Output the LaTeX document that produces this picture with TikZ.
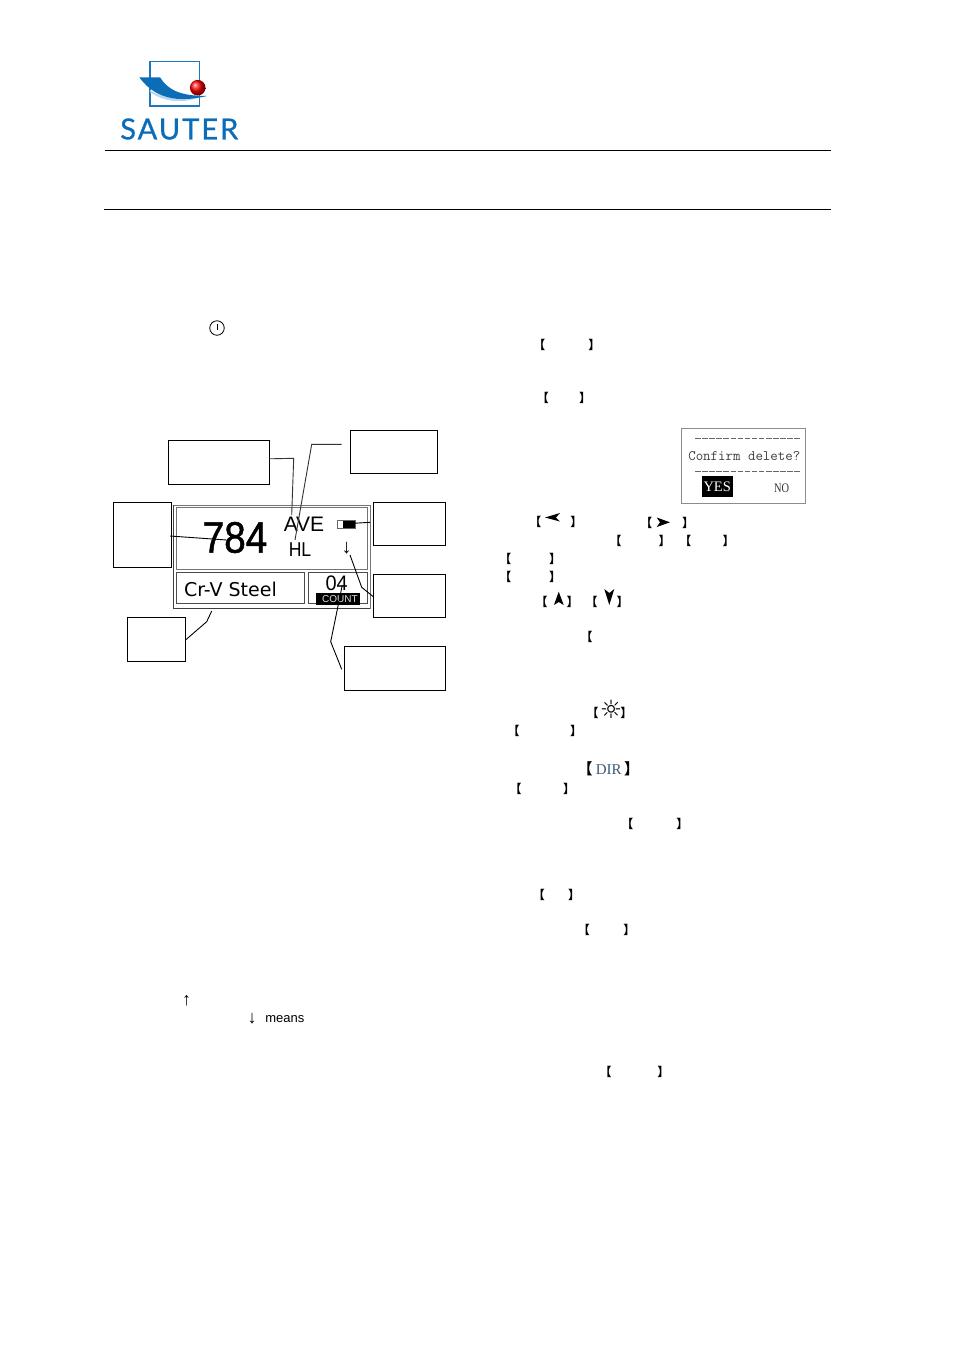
\documentclass[tikz,border=0pt]{standalone}
\usepackage{fontspec}
\usepackage{graphicx}
\setmainfont{Liberation Sans}
\newfontfamily\cjk{Noto Sans CJK SC}
\newfontfamily\dvs{DejaVu Sans}
\newfontfamily\lser{Liberation Serif}
\newfontfamily\lato[LetterSpace=7]{Lato}
\newfontfamily\heavy[FakeBold=1.2]{Liberation Sans}
\definecolor{logoblue}{HTML}{1B78BE}
\definecolor{logodark}{HTML}{0B6DB7}
\definecolor{logolight}{HTML}{BBD6EC}
\definecolor{dirblue}{HTML}{3A5A7A}
\tikzset{
  every node/.style={inner sep=0pt,outer sep=0pt},
  callout/.style={draw=black,line width=0.8pt,fill=white,anchor=north west},
  lead/.style={draw=black,line width=0.9pt},
  lcdframe/.style={draw=black!55,line width=0.8pt},
  lb/.style={font=\cjk\bfseries\fontsize{12}{12}\selectfont,xshift=-3.4pt,yshift=-0.7pt},
  rb/.style={font=\cjk\bfseries\fontsize{12}{12}\selectfont,xshift=3.4pt,yshift=-0.7pt},
}
\begin{document}
\begin{tikzpicture}[x=1pt,y=-1pt]
\useasboundingbox[fill=white] (0,0) rectangle (954,1350);
% header rules
\coordinate (r1a) at (104.5,150.5); \coordinate (r1b) at (830.5,150.5);
\coordinate (r2a) at (104,209.5); \coordinate (r2b) at (830.5,209.5);
\draw[line width=0.8pt] (r1a) -- (r1b);
\draw[line width=0.8pt] (r2a) -- (r2b);
% logo
\draw[logoblue,line width=1.3pt] (150,61.7) rectangle (199.3,106);
\fill[logolight] (150,90) .. controls (165,100) and (185,100) .. (201,97) .. controls (185,103) and (165,103) .. (150,92) -- cycle;
\fill[logodark] (139.3,77.3) -- (160,77.3) .. controls (168,90) and (180,96) .. (207,96) .. controls (185,101) and (158,103) .. (139.3,77.3) -- cycle;
\shade[ball color=red] (197.7,87.7) circle (7.8);
\node (sauter) at (179.3,129) {\lato\fontsize{29}{29}\selectfont\addfontfeature{FakeBold=0.8}\textcolor{logodark}{SAUTER}};
% power icon
\node[draw=black,circle,line width=0.8pt,minimum size=14.5pt] (power) at (217,328) {};
\draw[line width=0.8pt] (217,323.5) -- (217,329.5);
% callouts
\node[callout,minimum width=101pt,minimum height=43.6pt,line width=1pt] (a) at (168.3,440.7) {};
\node[callout,minimum width=87pt,minimum height=43.3pt] (b) at (350.3,430) {};
\node[callout,minimum width=58.4pt,minimum height=65pt] (c) at (113.3,502.3) {};
\node[callout,minimum width=72pt,minimum height=42.7pt] (d) at (373.3,502.3) {};
\node[callout,minimum width=72pt,minimum height=43.4pt,line width=1pt] (e) at (373.3,574.3) {};
\node[callout,minimum width=57.6pt,minimum height=43.6pt,line width=1.1pt] (f) at (127.7,617.7) {};
\node[callout,minimum width=101pt,minimum height=44pt] (g) at (344.3,646.3) {};
% LCD
\node[lcdframe,anchor=north west,minimum width=196.6pt,minimum height=103pt] (lcd) at (173.7,505.3) {};
\draw[black!75,line width=1.2pt] (lcd.north west) -- (lcd.south west) -- (lcd.south east);
\node[lcdframe,anchor=north west,minimum width=191.3pt,minimum height=61.6pt] (top) at (176,507.7) {};
\node[draw=black!70,line width=0.7pt,anchor=north west,minimum width=128.3pt,minimum height=31.4pt] (mat) at (176,572.3) {};
\node[draw=black!70,line width=0.7pt,anchor=north west,minimum width=59pt,minimum height=31.4pt] (cnt) at (308.3,572.3) {};
\node (val) at (235,537.5) {\scalebox{.88}[1]{\heavy\fontsize{44}{44}\selectfont 784}};
\node[font=\fontsize{21}{21}\selectfont] (ave) at (304,524.5) {AVE};
\node (hl) at (300,549.5) {\scalebox{.88}[1]{\fontsize{20}{20}\selectfont HL}};
\node[draw=black!60,line width=0.6pt,anchor=north west,minimum width=17.7pt,minimum height=7.6pt] (bat) at (337.3,520.7) {};
\fill (343,521) rectangle (354.7,528);
\node[font=\fontsize{20}{20}\selectfont] (dirm) at (346.7,548.5) {↓};
\node[font=\dvs\fontsize{19}{19}\selectfont,anchor=west] (mattxt) at (184,589) {Cr-V Steel};
\node (num) at (336.7,583.5) {\scalebox{.95}[1]{\fontsize{21}{21}\selectfont 04}};
\node[fill=black,text=black!12,anchor=north west,minimum width=44pt,minimum height=12pt,font=\fontsize{10}{10}\selectfont] (count) at (316,593.3) {\hspace*{4pt}COUNT};
% leaders
\coordinate (a1) at (293.7,458.3); \coordinate (a2) at (291.7,515);
\draw[lead,black!80] (a.east) ++(0,-3.7) coordinate (a0) -- (a1) -- (a2);
\coordinate (b1) at (341.7,444.3); \coordinate (b2) at (311.7,444.3); \coordinate (b3) at (295,540);
\draw[lead,black!80] (b1) -- (b2) -- (b3);
\coordinate (c0) at (170,536); \coordinate (c1) at (226.7,540);
\draw[lead] (c0) -- (c1);
\coordinate (d0) at (370,522.3); \coordinate (d1) at (353.3,523.3);
\draw[lead] (d0) -- (d1);
\coordinate (e0) at (373.3,596.7); \coordinate (e1) at (361.7,587.3); \coordinate (e2) at (350,555);
\draw[lead] (e0) -- (e1) -- (e2);
\coordinate (f0) at (185.5,640); \coordinate (f1) at (206.7,621.7); \coordinate (f2) at (211.7,611);
\draw[lead] (f0) -- (f1) -- (f2);
\coordinate (g0) at (341.7,669.3); \coordinate (g1) at (330.7,641.7); \coordinate (g2) at (342.3,585);
\draw[lead] (g0) -- (g1) -- (g2);
% confirm dialog
\node[draw=black!45,line width=0.8pt,anchor=north west,minimum width=124pt,minimum height=75pt] (dlg) at (681.7,428.3) {};
\coordinate (d1a) at (695,438.3); \coordinate (d1b) at (801,438.3);
\coordinate (d2a) at (695,471.3); \coordinate (d2b) at (801,471.3);
\draw[black!60,line width=0.6pt,dash pattern=on 5.5pt off 1.6pt] (d1a) -- (d1b);
\draw[black!60,line width=0.6pt,dash pattern=on 5.5pt off 1.6pt] (d2a) -- (d2b);
\node[font=\ttfamily\fontsize{14.5}{14.5}\selectfont,text=black!75] (conf) at (744.3,455.7) {Confirm delete?};
\node[fill=black,text=white,anchor=north west,minimum width=31pt,minimum height=21.7pt,font=\lser\fontsize{14.5}{14.5}\selectfont] (yes) at (701.7,475.5) {YES};
\node[text=black!80] (no) at (781.7,488.5) {\scalebox{.8}[1]{\lser\fontsize{13}{13}\selectfont NO}};
% brackets
\foreach \n/\x/\y in {1/542.8/344,2/546.3/397.7,3/538.7/521.7,4/649.7/522.3,5/619/540.7,6/688.7/540.7,7/508.7/558.3,8/508.7/576.7,9/545/601.7,10/595/601.7,11/590/636.7,12/596/712,13/517/730.7,14/519/788.7,15/630.7/823.3,16/542.3/894.3,17/587.3/929.3,18/609/1071}
  \node[lb] (bl\n) at (\x,\y) {【};
\foreach \n/\x/\y in {1/591/344,2/581.7/397.7,3/573/521.7,4/684.7/522.3,5/661.3/540.7,6/725.3/540.7,7/551.7/558.3,8/551.7/576.7,9/569.3/601.7,10/619.3/601.7,12/623/712,13/572.7/730.7,14/565.7/788.7,15/679/823.3,16/570.7/894.3,17/626/929.3,18/660/1071}
  \node[rb] (br\n) at (\x,\y) {】};
% key arrows
\fill (545,517.5) -- (560,513) -- (556,517.5) -- (560,521.5) -- cycle;
\fill (670,522.3) -- (656.7,517.5) -- (660,522.3) -- (656.7,527) -- cycle;
\fill (558.7,591.7) -- (563.7,605) -- (558.7,602) -- (554,605) -- cycle;
\fill (609.3,605) -- (604.3,589) -- (609.3,593) -- (614.3,589) -- cycle;
\node (sun) at (611,709) {\addfontfeature{FakeBold=1}\dvs\fontsize{25}{25}\selectfont ☼};
% DIR row
\node[font=\cjk\bfseries\fontsize{15}{15}\selectfont,xshift=-4pt] (dl) at (589,768.7) {【};
\node[font=\lser\fontsize{15}{15}\selectfont,text=dirblue] (dir) at (608.7,769.5) {DIR};
\node[font=\cjk\bfseries\fontsize{15}{15}\selectfont,xshift=4pt] (dr) at (627.5,768.7) {】};
% bottom-left text
\node[font=\fontsize{18}{18}\selectfont] (up) at (186.5,1000.5) {↑};
\node[font=\fontsize{18}{18}\selectfont] (down) at (252,1018.5) {↓};
\node[font=\fontsize{13}{13}\selectfont,anchor=base west] (means) at (265.3,1022.5) {means};
\end{tikzpicture}
\end{document}
